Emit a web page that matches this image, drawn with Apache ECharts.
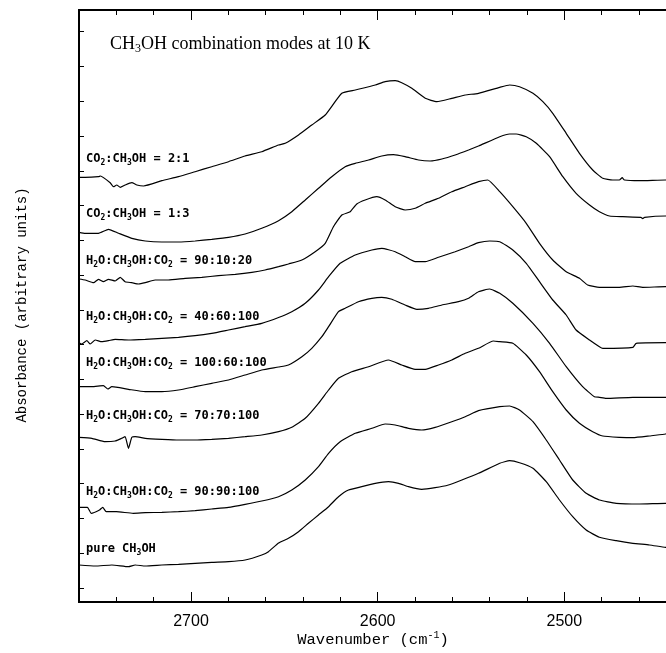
<!DOCTYPE html>
<html><head><meta charset="utf-8">
<script src="https://cdn.jsdelivr.net/npm/echarts@6/dist/echarts.min.js"></script>
<style>html,body{margin:0;padding:0;background:#fff}#c{width:666px;height:653px}</style>
</head><body><div id="c"></div>
<script>
// Wavenumber (cm^-1) vs absorbance (arbitrary units, offset traces)
const curve_CO2_CH3OH_2_1 = [[2760,424.7],[2756.7,424.7],[2749.6,425.3],[2748.5,426],[2743.3,419.3],[2741.5,415.3],[2739.8,417],[2737.9,414.7],[2735.3,417],[2731.7,419.3],[2729,417],[2725.4,416],[2715.6,421.3],[2706.7,425.3],[2697.8,430.3],[2688.9,435.3],[2679.9,440.3],[2671,446],[2662.1,450.3],[2653.1,457],[2649.5,458.7],[2642.4,467],[2635.3,477],[2628.1,487],[2619.2,508.7],[2612,512],[2601.3,517],[2596,520.3],[2590.6,521.3],[2587.1,519.3],[2581.7,513.7],[2574.5,503.7],[2568.3,500.3],[2560.3,503.7],[2553.1,507],[2546,508.7],[2534.6,514.7],[2529.3,517],[2524,515.3],[2516.8,508.7],[2511.5,500.3],[2506.2,488.7],[2499,468.7],[2491.9,448.7],[2484.8,432],[2479.4,423.7],[2474.1,422],[2470.5,422],[2469,424.3],[2467.8,422],[2459.8,421.3],[2445.8,422],[2440,422]];
const curve_CO2_CH3OH_1_3 = [[2760,369.7],[2756.7,368.7],[2749.6,368.7],[2744.2,372.7],[2738.8,368.7],[2731.7,363.7],[2724.5,361],[2715.6,360],[2706.7,360],[2697.8,361],[2688.9,362.7],[2679.9,364.7],[2671,368],[2662.1,373.7],[2653.1,381.3],[2646,390.3],[2638.8,402],[2631.7,413.7],[2624.6,425.3],[2617.4,435.3],[2612,438.7],[2604.9,442],[2597.8,446],[2591.5,447.3],[2585.3,445.3],[2578.1,442],[2571.9,441],[2565.6,443],[2558.5,447],[2551.3,452],[2546,456],[2534.6,465.3],[2529.3,468],[2525.8,468],[2520.4,465.3],[2515,458.7],[2507.9,445.3],[2500.8,425.3],[2493.7,408.7],[2486.5,397],[2481.2,390.3],[2475.8,386],[2468.7,385.3],[2459,384.7],[2458,383.3],[2457,384.7],[2445.8,386],[2440,386]];
const curve_H2O_90_10_20 = [[2760,323],[2756.7,322],[2752.2,319.3],[2749.6,322.7],[2746.9,320.3],[2744.2,322.7],[2740.6,321],[2737.9,324.7],[2735.3,320.3],[2731.7,319.3],[2728.1,318],[2724.5,319.3],[2719.2,322],[2712.1,322],[2703.1,323.7],[2694.2,324.7],[2685.3,326.3],[2676.3,327.7],[2667.4,329.7],[2660.3,332],[2653.1,335.3],[2647.8,338],[2640.6,342],[2633.5,350.3],[2628.1,358.7],[2623.7,375.3],[2619.2,387],[2614.7,390.3],[2611.2,398],[2606.7,402],[2600.5,405.3],[2596,402],[2590.6,395.3],[2585.3,392],[2579.9,393.7],[2574.5,398.7],[2567.4,403.7],[2560.3,410.3],[2553.1,415.3],[2546,420.3],[2541,422],[2534.6,410.3],[2527.6,395.3],[2520.4,378.7],[2513.3,358.7],[2506.2,342],[2499,330.3],[2491.9,323.7],[2487.5,317],[2481.2,314.7],[2470.5,314.7],[2463.3,316],[2458,314.7],[2445.8,315.3],[2440,315.3]];
const curve_H2O_40_60_100 = [[2760,259.3],[2758.5,258],[2755.8,261.3],[2754,258],[2751.3,262],[2747.8,260.3],[2744.2,261.3],[2740.6,262.7],[2733.5,262],[2724.5,262.7],[2715.6,263.7],[2706.7,264.7],[2697.8,266.3],[2688.9,268.7],[2679.9,272],[2671,275.3],[2662.1,278.7],[2653.1,284.5],[2646,290.3],[2638.8,298.7],[2631.7,312],[2626.3,325.3],[2620.1,338.7],[2612,347],[2603.1,352],[2597.8,353.7],[2590.6,350.3],[2585.3,345.3],[2579.9,340.3],[2574.5,340.3],[2567.4,344.7],[2558.5,350.3],[2551.3,355.3],[2546,359.3],[2540,361],[2534.6,360.3],[2527.6,352],[2520.4,338.7],[2513.3,320.3],[2506.2,302],[2499,287],[2493.7,272],[2486.5,262],[2481.2,255.3],[2479.4,253.7],[2463.3,254.7],[2461.5,258.7],[2445.8,259.3],[2440,259.3]];
const curve_H2O_100_60_100 = [[2760,215.3],[2753.1,215.3],[2746.9,216.3],[2744.6,213],[2742.4,215.3],[2733.5,212.7],[2724.5,210.3],[2715.6,210.3],[2706.7,212],[2697.8,215.3],[2688.9,218.7],[2679.9,222],[2671,227],[2662.1,232],[2653.1,235],[2647.8,237],[2640.6,245.3],[2635.3,253.7],[2629.9,265.3],[2626.3,275.3],[2621,290.3],[2617.4,293.7],[2610.3,300.3],[2603.1,303.7],[2597.8,304.7],[2592.4,302.7],[2585.3,297],[2579,292.7],[2572.8,293.7],[2565.6,297],[2556.7,300.3],[2551.3,303.7],[2546,310.3],[2540,313],[2534.6,308.7],[2527.6,298.7],[2516.8,278.7],[2507.9,258.7],[2499,235.3],[2490.2,215.3],[2483.9,205.3],[2481.2,204.7],[2477.6,203.7],[2463.3,204.7],[2445.8,204.7],[2440,204.7]];
const curve_H2O_70_70_100 = [[2760,164.7],[2753.1,163.7],[2746,160.3],[2740.6,161],[2737.1,163.7],[2735.3,165.3],[2733.5,153.7],[2731.7,164.7],[2729.9,165.3],[2724.5,163.7],[2715.6,162.7],[2706.7,162],[2697.8,162],[2688.9,162.7],[2679.9,163.7],[2671,165.3],[2662.1,167],[2653.1,170.3],[2646,174.7],[2638.8,183.7],[2631.7,198.7],[2626.3,212],[2621,223.7],[2613.9,230.3],[2604.9,235.3],[2594.2,242],[2587.1,237],[2579.9,232.7],[2574.5,232.7],[2567.4,237],[2560.3,242],[2553.1,248.7],[2546,253.7],[2538,261],[2534.6,260.3],[2527.6,258.7],[2520.4,247],[2513.3,230.3],[2506.2,210.3],[2499,192],[2491.9,178.7],[2484.8,170.3],[2479.4,166],[2470.5,164.7],[2463.3,164.3],[2454.4,166],[2445.8,168],[2440,168.5]];
const curve_H2O_90_90_100 = [[2760,94.7],[2755.5,94.7],[2753.5,88.7],[2749,92],[2747.3,94.7],[2745.4,90.3],[2740,90.3],[2731,88.7],[2724.5,89.3],[2715.6,89.7],[2706.7,90.3],[2697.8,91.3],[2688.9,93],[2679.9,94.7],[2671,97.7],[2662.1,101],[2653.1,105.3],[2646,112],[2638.8,122],[2631.7,135.3],[2626.3,148.7],[2620.1,160.3],[2612,168.7],[2603.1,173.7],[2596,178],[2590.6,177],[2583.5,173.7],[2576.4,172],[2569.2,174.7],[2560.3,180.3],[2553.1,185.3],[2546,191.3],[2534.6,195.3],[2529.3,196],[2524,192],[2516.8,180.3],[2509.7,162],[2502.6,142],[2495.5,122],[2488.3,108.7],[2481.2,102],[2472.2,98.7],[2459.8,98],[2445.8,98.7],[2440,98.7]];
const curve_pure_CH3OH = [[2760,37],[2751.3,36],[2742.4,37],[2733.5,35.3],[2729.9,37],[2724.5,36],[2715.6,37],[2706.7,37.7],[2697.8,38.7],[2688.9,39.7],[2679.9,40.3],[2671,42],[2662.1,47],[2658.5,50.3],[2653.1,59],[2647.8,63.7],[2642.4,70.3],[2637.1,78.7],[2631.7,87],[2626.3,95.3],[2621,105.3],[2615.6,112],[2608.5,115.3],[2601.3,118.7],[2594.2,120.3],[2588.8,118.7],[2583.5,115.3],[2576.4,112.7],[2569.2,114.3],[2562.1,117],[2554.9,122],[2546,128.7],[2534.6,138.7],[2529.3,141.3],[2524,139.3],[2516.8,133.7],[2509.7,120.3],[2502.6,102],[2495.5,85.3],[2488.3,72],[2481.2,64.7],[2472.2,61.3],[2463.3,58.7],[2454.4,57],[2445.8,54.7],[2440,54]];

const curves = [curve_CO2_CH3OH_2_1, curve_CO2_CH3OH_1_3, curve_H2O_90_10_20, curve_H2O_40_60_100,
  curve_H2O_100_60_100, curve_H2O_70_70_100, curve_H2O_90_90_100, curve_pure_CH3OH];
const curveLabels = [
  '{n|CO}{s|2}{n|:CH}{s|3}{n|OH = 2:1}',
  '{n|CO}{s|2}{n|:CH}{s|3}{n|OH = 1:3}',
  '{n|H}{s|2}{n|O:CH}{s|3}{n|OH:CO}{s|2}{n| = 90:10:20}',
  '{n|H}{s|2}{n|O:CH}{s|3}{n|OH:CO}{s|2}{n| = 40:60:100}',
  '{n|H}{s|2}{n|O:CH}{s|3}{n|OH:CO}{s|2}{n| = 100:60:100}',
  '{n|H}{s|2}{n|O:CH}{s|3}{n|OH:CO}{s|2}{n| = 70:70:100}',
  '{n|H}{s|2}{n|O:CH}{s|3}{n|OH:CO}{s|2}{n| = 90:90:100}',
  '{n|pure CH}{s|3}{n|OH}'
];
const labelY = [159, 214, 261, 317, 363, 416, 492, 549];
const titleText = '{n|CH}{s|3}{n|OH combination modes at 10 K}';
const xTitle = '{n|Wavenumber (cm}{p|-1}{n|)}';
const yTitle = 'Absorbance (arbitrary units)';
const yTickStart = 14, yTickStep = 34.77, yTickCount = 17;
const yTicks = Array.from({length: yTickCount}, (_, k) => +(yTickStart + yTickStep * k).toFixed(2));

const chart = echarts.init(document.getElementById('c'), null, {renderer: 'canvas'});
const lineCol = '#000';
const baseX = {
  type: 'value', min: 2400, max: 2760, inverse: true, gridIndex: 0,
  splitLine: {show: false}, axisLine: {show: true, lineStyle: {color: lineCol, width: 2}},
};
const labelRich = {
  n: {fontFamily: 'DejaVu Sans Mono', fontWeight: 'bold', fontSize: 12, lineHeight: 16, color: '#000'},
  s: {fontFamily: 'DejaVu Sans Mono', fontWeight: 'bold', fontSize: 8, lineHeight: 9, verticalAlign: 'bottom', color: '#000'}
};
const graphics = curveLabels.map((t, i) => ({
  type: 'text', x: 86, y: labelY[i],
  style: {text: t, rich: labelRich, align: 'left', verticalAlign: 'middle'}
}));
graphics.push({type: 'text', x: 110, y: 44, style: {text: titleText, align: 'left', verticalAlign: 'middle', rich: {
  n: {fontFamily: 'Liberation Serif', fontSize: 18, lineHeight: 22, color: '#000'},
  s: {fontFamily: 'Liberation Serif', fontSize: 12, lineHeight: 12, verticalAlign: 'bottom', color: '#000'}}}});
graphics.push({type: 'text', x: 373, y: 640, style: {text: xTitle, align: 'center', verticalAlign: 'middle', rich: {
  n: {fontFamily: 'Liberation Mono', fontSize: 15.5, lineHeight: 20, color: '#000'},
  p: {fontFamily: 'Liberation Mono', fontSize: 10, lineHeight: 12, verticalAlign: 'top', color: '#000'}}}});
graphics.push({type: 'text', x: 22, y: 305, rotation: Math.PI / 2, style: {text: yTitle, align: 'center', verticalAlign: 'middle',
  fontFamily: 'Liberation Mono', fontSize: 14, fill: '#000'}});

chart.setOption({
  animation: false,
  backgroundColor: '#fff',
  grid: {left: 79, top: 10, width: 672, height: 592, containLabel: false, outerBoundsMode: 'none'},
  xAxis: [
    Object.assign({}, baseX, {position: 'bottom', interval: 100,
      axisTick: {show: true, inside: true, length: 10, lineStyle: {color: lineCol, width: 1}},
      axisLabel: {show: true, showMaxLabel: false, showMinLabel: false, margin: 12, color: '#000', fontFamily: 'Liberation Sans', fontSize: 16,
        formatter: v => String(v)}}),
    Object.assign({}, baseX, {position: 'bottom', interval: 20,
      axisTick: {show: true, inside: true, length: 5, lineStyle: {color: lineCol, width: 1}},
      axisLabel: {show: false}}),
    Object.assign({}, baseX, {position: 'top', interval: 100,
      axisTick: {show: true, inside: true, length: 10, lineStyle: {color: lineCol, width: 1}},
      axisLabel: {show: false}}),
    Object.assign({}, baseX, {position: 'top', interval: 20,
      axisTick: {show: true, inside: true, length: 5, lineStyle: {color: lineCol, width: 1}},
      axisLabel: {show: false}})
  ],
  yAxis: {
    type: 'value', min: 0, max: 592, position: 'left',
    splitLine: {show: false},
    axisLine: {show: true, lineStyle: {color: lineCol, width: 2}},
    axisTick: {show: true, inside: true, length: 5, customValues: yTicks, lineStyle: {color: lineCol, width: 1}},
    axisLabel: {show: false}
  },
  series: curves.map(d => ({
    type: 'line', data: d, xAxisIndex: 0, yAxisIndex: 0, showSymbol: false, symbol: 'none',
    smooth: 0.15, lineStyle: {color: lineCol, width: 1.2}, clip: true, silent: true
  })),
  graphic: graphics
});
</script>
</body></html>
